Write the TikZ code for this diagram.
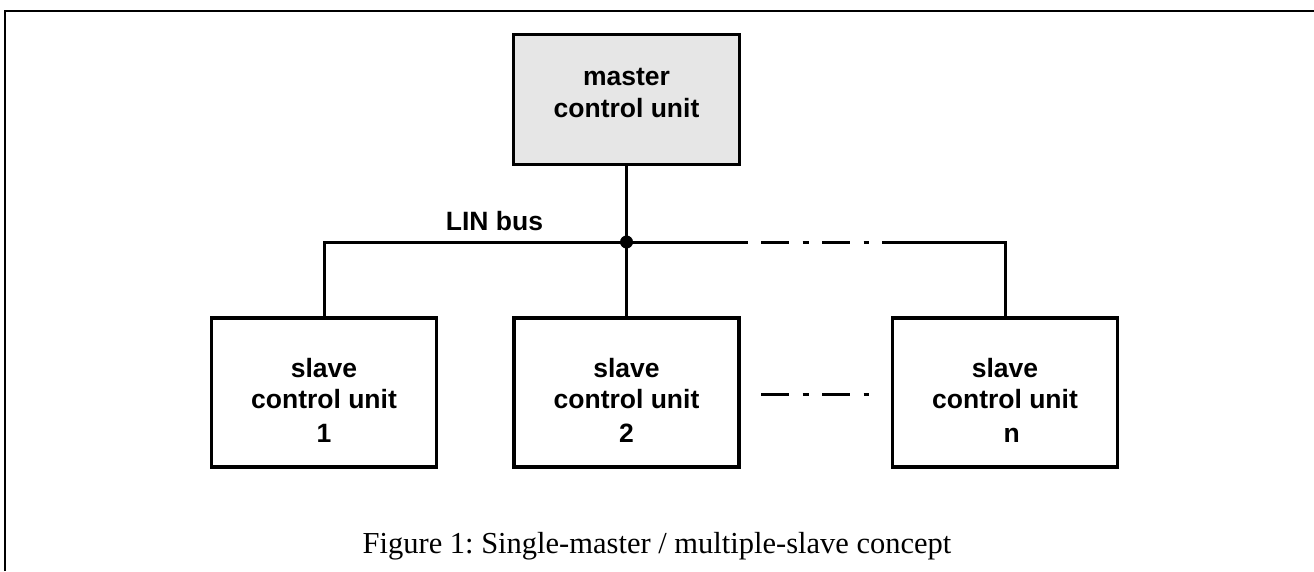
\documentclass[tikz,border=0pt]{standalone}
\usepackage{fontspec}
\setmainfont{Liberation Serif}
\newfontfamily\boxfont{Liberation Sans}
\frenchspacing
\begin{document}
\begin{tikzpicture}[x=1pt,y=-1pt,
  unitbox/.style={draw=black, line width=3.2, minimum width=225, minimum height=149, inner sep=0},
  unittext/.style={font=\boxfont\bfseries\fontsize{26.5}{31.5}\selectfont, align=center, inner sep=0},
  wire/.style={line width=3, line cap=butt},
  dashdot/.style={wire, dash pattern=on 28 off 13.5 on 6 off 13.5}
]
\useasboundingbox (0,0) rectangle (1314,571);
\coordinate (fbl) at (4.5,571);
\coordinate (ftl) at (4.5,10.5);
\coordinate (ftr) at (1314,10.5);
\draw[line width=2] (fbl) -- (ftl) -- (ftr);

\node[unitbox, fill={rgb,255:red,230;green,230;blue,230}, minimum width=226, minimum height=130] (m) at (626.5,99.5) {};
\node[unittext] (mt) at (626.5,93) {master\\control unit};

\node[unitbox] (s1) at (324,392.5) {};
\node[unitbox] (s2) at (626.5,392.5) {};
\node[unitbox] (sn) at (1005,392.5) {};
\node[unittext] (s1t) at (324,400) {slave\\control unit\\[2pt]1};
\node[unittext] (s2t) at (626.5,400) {slave\\control unit\\[2pt]2};
\node[unittext] (snt) at (1005,400) {slave\\control unit\\[2pt]\hspace*{0.5em}n};

\coordinate (junc) at (626.5,242);
\coordinate (bA) at (748,242);
\coordinate (bB) at (761,242);
\coordinate (bC) at (869,242);
\coordinate (bD) at (882,242);
\draw[wire] (m.south) -- (s2.north);
\draw[wire] (s1.north) |- (junc) -- (bA);
\draw[dashdot] (bB) -- (bC);
\draw[wire] (bD) -| (sn.north);
\fill (junc) circle (6.5);

\coordinate (dA) at (761,394);
\coordinate (dB) at (869,394);
\draw[dashdot] (dA) -- (dB);

\node[font=\boxfont\bfseries\fontsize{26.5}{31.5}\selectfont, anchor=base, inner sep=0] (lin) at (494.5,230) {LIN bus};

\node[font=\fontsize{30.5}{36}\selectfont, anchor=base, inner sep=0] (cap) at (657,553) {Figure 1: Single-master / multiple-slave concept};
\end{tikzpicture}
\end{document}
